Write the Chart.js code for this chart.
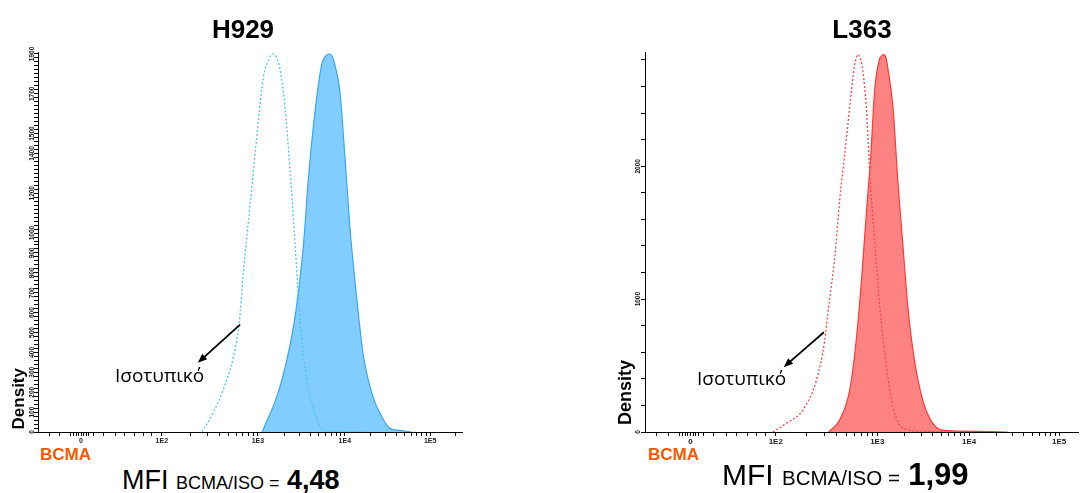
<!DOCTYPE html>
<html>
<head>
<meta charset="utf-8">
<script src="https://cdn.jsdelivr.net/npm/chart.js@4.4.1/dist/chart.umd.min.js"></script>
<style>
body { margin: 0; background: #fff; width: 1081px; height: 493px; position: relative; overflow: hidden; font-family: "Liberation Sans", Arial, sans-serif; }
canvas { position: absolute; }
.t { position: absolute; white-space: nowrap; line-height: 1; color: #000; }
.title { font-weight: bold; font-size: 26px; transform: translateX(-50%); }
.bcma { color: #ff5400; font-weight: bold; font-size: 17px; }
.iso { font-family: "Open Sans", sans-serif; font-size: 19px; }
.dens { font-weight: bold; writing-mode: vertical-rl; transform: rotate(180deg); }
</style>
</head>
<body>
<canvas id="h929" width="470" height="410" style="left:0;top:40px"></canvas>
<canvas id="l363" width="491" height="410" style="left:590px;top:40px"></canvas>

<div class="t title" style="left:243px;top:16px">H929</div>
<div class="t title" style="left:862px;top:16px">L363</div>
<div class="t dens" style="left:10px;top:368px;font-size:17px">Density</div>
<div class="t dens" style="left:616px;top:360px;font-size:18px">Density</div>
<div class="t bcma" style="left:40px;top:446px">BCMA</div>
<div class="t bcma" style="left:648px;top:446px">BCMA</div>
<div class="t iso" style="left:115px;top:366px">Ισοτυπικό</div>
<div class="t iso" style="left:697px;top:369px">Ισοτυπικό</div>
<div class="t" style="left:122px;top:467px;font-size:27px">MFI <span style="font-size:18px">BCMA/ISO =</span> <b style="font-size:27px">4,48</b></div>
<div class="t" style="left:722px;top:459px;font-size:30px">MFI <span style="font-size:20.5px">BCMA/ISO =</span> <b style="font-size:31px">1,99</b></div>

<script>
// x in instrument channels (biexponential display), y = cell density
var xMajorTicks = [104, 299, 531, 741, 947];
var xMajorLabels = ['0', '1E2', '1E3', '1E4', '1E5'];
var xZoneTicks = [27, 53, 79, 86, 93, 98, 110, 116, 123, 133, 157, 186, 210, 234, 254, 275];

// H929
var h929IsoX = [396, 423, 447, 472, 486, 496, 512, 528, 544, 558, 568, 577, 584, 596, 609, 621, 633, 649, 669, 689, 720, 790];
var h929IsoY = [0, 96, 212, 380, 549, 801, 1138, 1475, 1778, 1875, 1900, 1878, 1828, 1643, 1306, 936, 549, 263, 94, 10, 3, 0];
var h929BcmaX = [541, 556, 572, 589, 609, 625, 641, 653, 669, 685, 694, 703, 711, 717, 729, 741, 753, 770, 786, 806, 830, 850, 875, 903];
var h929BcmaY = [0, 70, 150, 260, 440, 640, 936, 1273, 1609, 1845, 1888, 1900, 1886, 1845, 1712, 1390, 1037, 667, 380, 195, 77, 19, 8, 0];
var h929YLabels = [0, 100, 200, 300, 400, 500, 600, 700, 800, 900, 1000, 1200, 1400, 1500, 1700, 1900];

// L363
var l363IsoX = [292, 323, 361, 392, 411, 418, 434, 445, 460, 472, 481, 487, 493, 498, 506, 514, 525, 537, 552, 567, 590, 640, 703];
var l363IsoY = [0, 65, 165, 391, 691, 894, 1317, 1742, 2193, 2568, 2790, 2840, 2805, 2719, 2443, 1943, 1442, 941, 490, 190, 28, 5, 0];
var l363BcmaX = [420, 445, 468, 483, 495, 506, 516, 525, 535, 541, 546, 551, 555, 567, 578, 590, 601, 616, 635, 658, 689, 760, 829];
var l363BcmaY = [0, 90, 315, 691, 1142, 1642, 2068, 2568, 2794, 2830, 2840, 2815, 2743, 2443, 1893, 1392, 941, 541, 240, 65, 10, 5, 0];
var l363YLabels = [0, 1000, 2000];

function pts(xs, ys) {
    return xs.map(function (x, i) { return { x: x, y: ys[i] }; });
}

// majors + the linear zone round 0 + log minors inside each decade
function xTicks(max) {
    var t = xMajorTicks.concat(xZoneTicks);
    for (var d = 1; d < xMajorTicks.length; d++) {
        var a = xMajorTicks[d];
        var w = d < xMajorTicks.length - 1 ? xMajorTicks[d + 1] - a : 206;
        for (var m = 2; m <= 9; m++) t.push(a + w * Math.log10(m));
    }
    return t.filter(function (v) { return v <= max; }).sort(function (a, b) { return a - b; });
}

var histDeco = {
    id: 'histDeco',
    afterDraw: function (chart, args, o) {
        var ys = chart.scales.y, xs = chart.scales.x, ctx = chart.ctx;
        ctx.save();
        ctx.font = 'bold ' + o.labelSize + 'px "Liberation Sans"';
        ctx.fillStyle = '#111';
        ctx.textAlign = 'center';
        ctx.textBaseline = 'middle';
        o.labels.forEach(function (v) {
            ctx.save();
            ctx.translate(ys.right - o.labelOffset, ys.getPixelForValue(v));
            ctx.rotate(-Math.PI / 2);
            ctx.fillText(String(v), 0, 0);
            ctx.restore();
        });
        // arrow to the isotype curve
        var x1 = xs.getPixelForValue(o.arrow[0]), y1 = ys.getPixelForValue(o.arrow[1]);
        var x2 = xs.getPixelForValue(o.arrow[2]), y2 = ys.getPixelForValue(o.arrow[3]);
        var ang = Math.atan2(y2 - y1, x2 - x1);
        ctx.strokeStyle = '#000';
        ctx.fillStyle = '#000';
        ctx.lineWidth = 1.8;
        ctx.beginPath();
        ctx.moveTo(x1, y1);
        ctx.lineTo(x2 - 7 * Math.cos(ang), y2 - 7 * Math.sin(ang));
        ctx.stroke();
        ctx.beginPath();
        ctx.moveTo(x2, y2);
        ctx.lineTo(x2 - 10 * Math.cos(ang - 0.38), y2 - 10 * Math.sin(ang - 0.38));
        ctx.lineTo(x2 - 10 * Math.cos(ang + 0.38), y2 - 10 * Math.sin(ang + 0.38));
        ctx.closePath();
        ctx.fill();
        ctx.restore();
    }
};

function histogram(id, p) {
    return new Chart(document.getElementById(id), {
        type: 'line',
        data: {
            datasets: [{
                data: pts(p.isoX, p.isoY),
                borderColor: p.isoColor,
                borderWidth: 1.3,
                borderDash: [2, 2],
                fill: false,
                pointRadius: 0,
                cubicInterpolationMode: 'monotone'
            }, {
                data: pts(p.bcmaX, p.bcmaY),
                borderColor: p.lineColor,
                backgroundColor: p.fillColor,
                borderWidth: 1.2,
                fill: 'origin',
                pointRadius: 0,
                cubicInterpolationMode: 'monotone'
            }]
        },
        options: {
            responsive: false,
            animation: false,
            layout: { padding: { left: p.padLeft, right: p.padRight, top: 12, bottom: 0 } },
            plugins: {
                legend: { display: false },
                tooltip: { enabled: false },
                histDeco: { labels: p.yLabels, labelSize: p.labelSize, labelOffset: p.labelOffset, arrow: p.arrow }
            },
            scales: {
                x: {
                    type: 'linear',
                    min: 0,
                    max: p.xMax,
                    afterBuildTicks: function (s) { s.ticks = xTicks(p.xMax).map(function (v) { return { value: v }; }); },
                    afterFit: function (s) { s.height = 18; },
                    grid: { drawOnChartArea: false, tickLength: 4, tickColor: '#000', tickWidth: 1 },
                    border: { color: '#000', width: 1 },
                    ticks: {
                        autoSkip: false,
                        maxRotation: 0,
                        padding: 1,
                        color: '#222',
                        font: { size: p.xLabelSize, weight: 'bold', family: 'Liberation Sans' },
                        callback: function (v) {
                            var i = xMajorTicks.indexOf(v);
                            return i < 0 ? '' : xMajorLabels[i];
                        }
                    }
                },
                y: {
                    min: 0,
                    max: p.yMax,
                    afterBuildTicks: function (s) {
                        var t = [];
                        for (var v = 0; v <= p.yMax; v += p.yStep) t.push({ value: v });
                        s.ticks = t;
                    },
                    afterFit: function (s) { s.width = p.yWidth; },
                    grid: { drawOnChartArea: false, tickLength: 4, tickColor: '#000', tickWidth: 1 },
                    border: { color: '#000', width: 1 },
                    ticks: { display: false }
                }
            }
        },
        plugins: [histDeco]
    });
}

histogram('h929', {
    isoX: h929IsoX, isoY: h929IsoY, bcmaX: h929BcmaX, bcmaY: h929BcmaY,
    isoColor: '#4cc4f5', lineColor: '#3aa6ef', fillColor: '#82cdff',
    xMax: 1024, yMax: 1910, yStep: 20, yLabels: h929YLabels,
    padLeft: 8, padRight: 8, yWidth: 30, labelSize: 6.5, labelOffset: 6, xLabelSize: 7,
    arrow: [488, 540, 386, 348]
});

histogram('l363', {
    isoX: l363IsoX, isoY: l363IsoY, bcmaX: l363BcmaX, bcmaY: l363BcmaY,
    isoColor: '#ff4545', lineColor: '#ff3838', fillColor: '#ff8282',
    xMax: 990, yMax: 2860, yStep: 200, yLabels: l363YLabels,
    padLeft: 20, padRight: 3, yWidth: 35, labelSize: 6.5, labelOffset: 7, xLabelSize: 8,
    arrow: [409, 751, 317, 488]
});
</script>
</body>
</html>
